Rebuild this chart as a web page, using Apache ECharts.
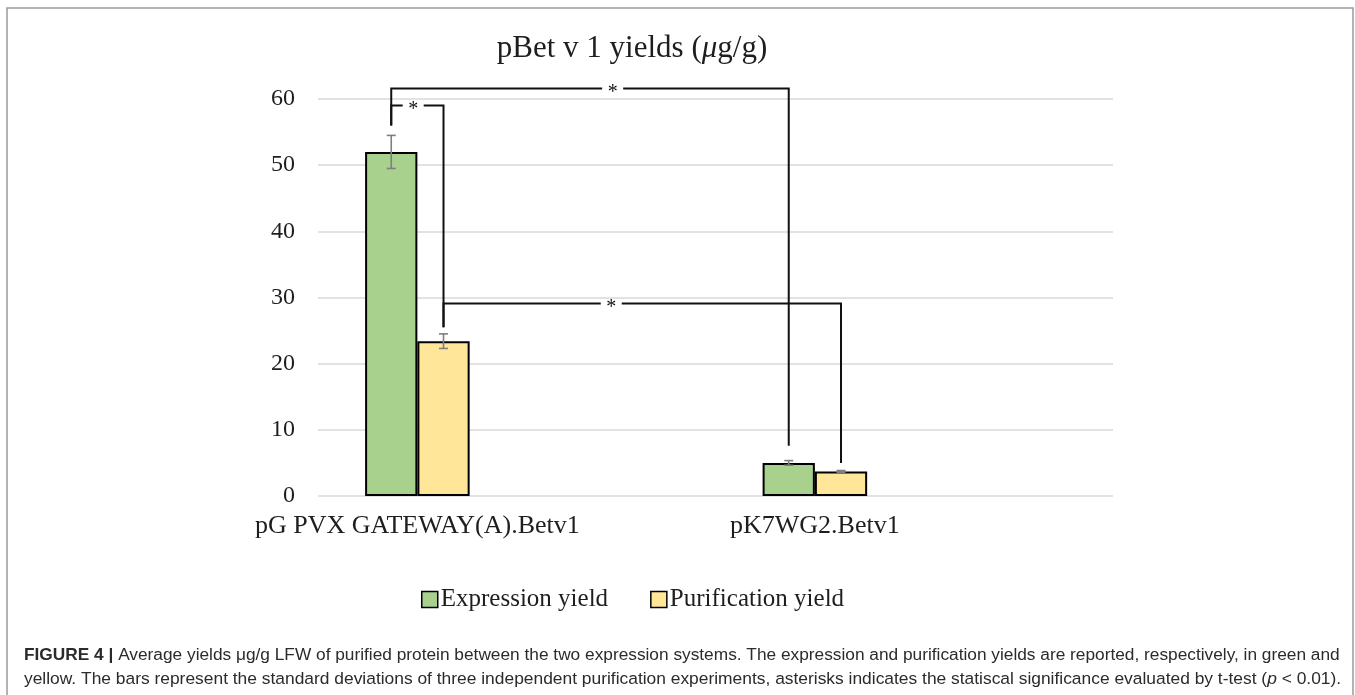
<!DOCTYPE html>
<html>
<head>
<meta charset="utf-8">
<script src="https://cdn.jsdelivr.net/npm/echarts@6/dist/echarts.min.js"></script>
<style>
html,body{margin:0;padding:0;background:#fff;}
#chart{width:1355px;height:695px;}
</style>
</head>
<body>
<div id="chart"></div>
<script>
// ---- data ----
const categories = ['pG PVX GATEWAY(A).Betv1', 'pK7WG2.Betv1'];
const seriesNames = ['Expression yield', 'Purification yield'];
const expressionYield = [52.0, 5.0];
const purificationYield = [23.4, 3.7];
const expressionSD = [2.5, 0.35];
const purificationSD = [1.1, 0.15];
const yTicks = [0, 10, 20, 30, 40, 50, 60];
// significance brackets: [fromCategory, fromSeries, toCategory, toSeries, topValue, fromEndValue, toEndValue, label, labelAt]
const brackets = [
  [0, 0, 1, 0, 61.6, 56.0, 7.6, '*', 0.557],
  [0, 0, 0, 1, 59.0, 56.0, 25.5, '*', 0.42],
  [0, 1, 1, 1, 29.1, 25.5, 5.0, '*', 0.422]
];
const titleText = 'pBet v 1 yields ({i|μ}g/g)';
const captionLine1 = '{b|FIGURE 4 |} Average yields μg/g LFW of purified protein between the two expression systems. The expression and purification yields are reported, respectively, in green and';
const captionLine2 = 'yellow. The bars represent the standard deviations of three independent purification experiments, asterisks indicates the statiscal significance evaluated by t-test ({i|p} < 0.01).';

// ---- layout helpers ----
const CAT_GAP = 0.474;
const slots = categories.flatMap(c => [c, '']);
const serif = "'Liberation Serif', 'Times New Roman', serif";
const sans = "'Liberation Sans', Arial, sans-serif";
const valuesBySeries = [expressionYield, purificationYield];
const sdBySeries = [expressionSD, purificationSD];
const capSize1 = 17.3;
const capSize2 = 17.4;

function barCenterX(api, cat, s) {
  const p = api.coord([cat * 2, 0]);
  const band = api.size([1, 0])[0];
  const bw = band * (1 - CAT_GAP) / 2;
  return p[0] + (s === 0 ? -bw / 2 : bw / 2);
}

const errorItems = [];
valuesBySeries.forEach((vals, s) => vals.forEach((v, c) => errorItems.push([c * 2, v, sdBySeries[s][c], s, c])));

const chart = echarts.init(document.getElementById('chart'), null, {renderer: 'canvas'});
chart.setOption({
  animation: false,
  backgroundColor: '#fff',
  title: {
    text: titleText,
    left: 627,
    top: 28,
    textAlign: 'center',
    textStyle: {
      fontFamily: serif, fontSize: 31, fontWeight: 'normal', color: '#1e1e1e',
      rich: {i: {fontFamily: serif, fontSize: 31, fontStyle: 'italic', color: '#1e1e1e'}}
    }
  },
  legend: {
    data: seriesNames,
    left: 416,
    top: 582,
    icon: 'rect',
    itemWidth: 16,
    itemHeight: 16,
    itemGap: 42,
    itemStyle: {borderColor: '#000', borderWidth: 1.5},
    textStyle: {fontFamily: serif, fontSize: 25, color: '#1e1e1e', padding: [0, 0, 0, -2]}
  },
  grid: {left: 318, right: 242, top: 99, bottom: 199, containLabel: false},
  xAxis: {
    type: 'category',
    data: slots,
    axisLine: {show: false},
    axisTick: {show: false},
    axisLabel: {interval: 0, margin: 17, fontFamily: serif, fontSize: 26, color: '#1e1e1e'},
    splitLine: {show: false}
  },
  yAxis: {
    type: 'value',
    min: yTicks[0],
    max: yTicks[yTicks.length - 1],
    interval: yTicks[1] - yTicks[0],
    axisLine: {show: false},
    axisTick: {show: false},
    axisLabel: {margin: 23, fontFamily: serif, fontSize: 24, color: '#1e1e1e'},
    splitLine: {lineStyle: {color: '#d9d9d9', width: 1.5}}
  },
  series: [
    {
      name: seriesNames[0], type: 'bar', barGap: '0%', barCategoryGap: (CAT_GAP * 100) + '%',
      data: expressionYield.map((v, i) => [i * 2, v]),
      itemStyle: {color: '#a9d18e', borderColor: '#000', borderWidth: 2}
    },
    {
      name: seriesNames[1], type: 'bar', barGap: '0%', barCategoryGap: (CAT_GAP * 100) + '%',
      data: purificationYield.map((v, i) => [i * 2, v]),
      itemStyle: {color: '#ffe699', borderColor: '#000', borderWidth: 2}
    },
    {
      name: 'error', type: 'custom', z: 5, silent: true,
      data: errorItems.map(e => [e[0], e[1]]),
      renderItem: function (params, api) {
        const e = errorItems[params.dataIndex];
        const x = barCenterX(api, e[4], e[3]);
        const yTop = api.coord([e[0], e[1] + e[2]])[1];
        const yBot = api.coord([e[0], e[1] - e[2]])[1];
        const st = {stroke: '#7f7f7f', lineWidth: 1.6};
        return {
          type: 'group',
          children: [
            {type: 'line', shape: {x1: x, y1: yTop, x2: x, y2: yBot}, style: st},
            {type: 'line', shape: {x1: x - 4.5, y1: yTop, x2: x + 4.5, y2: yTop}, style: st},
            {type: 'line', shape: {x1: x - 4.5, y1: yBot, x2: x + 4.5, y2: yBot}, style: st}
          ]
        };
      }
    },
    {
      name: 'significance', type: 'custom', z: 6, silent: true, clip: false,
      data: brackets.map(b => [b[0] * 2, b[4]]),
      renderItem: function (params, api) {
        const b = brackets[params.dataIndex];
        const xf = barCenterX(api, b[0], b[1]);
        const xt = barCenterX(api, b[2], b[3]);
        const yTop = api.coord([b[0] * 2, b[4]])[1];
        const yF = api.coord([b[0] * 2, b[5]])[1];
        const yT = api.coord([b[2] * 2, b[6]])[1];
        const xs = xf + (xt - xf) * b[8];
        const gap = 10.5;
        const st = {stroke: '#111', lineWidth: 2, fill: null};
        return {
          type: 'group',
          children: [
            {type: 'polyline', shape: {points: [[xf, yF], [xf, yTop], [xs - gap, yTop]]}, style: st},
            {type: 'polyline', shape: {points: [[xs + gap, yTop], [xt, yTop], [xt, yT]]}, style: st},
            {type: 'text', x: xs, y: yTop + 4, style: {text: b[7], fill: '#111', font: '20px ' + serif, align: 'center', verticalAlign: 'middle'}}
          ]
        };
      }
    }
  ],
  graphic: [
    {type: 'rect', silent: true, shape: {x: 7, y: 8, width: 1346, height: 730}, style: {fill: 'none', stroke: '#9a9a9a', lineWidth: 1.5}},
    {type: 'text', silent: true, x: 24, y: 655, style: {
      text: captionLine1, fill: '#2b2b2b', fontFamily: sans, fontSize: capSize1, verticalAlign: 'middle',
      rich: {b: {fontFamily: sans, fontSize: capSize1, fontWeight: 'bold', fill: '#2b2b2b'}}
    }},
    {type: 'text', silent: true, x: 24, y: 679, style: {
      text: captionLine2, fill: '#2b2b2b', fontFamily: sans, fontSize: capSize2, verticalAlign: 'middle',
      rich: {i: {fontFamily: sans, fontSize: capSize2, fontStyle: 'italic', fill: '#2b2b2b'}}
    }}
  ]
});
</script>
</body>
</html>
